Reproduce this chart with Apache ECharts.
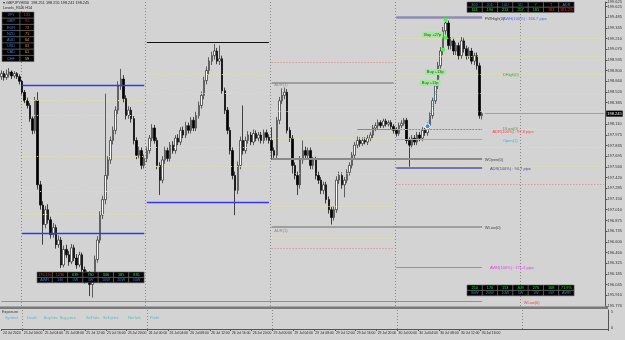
<!DOCTYPE html>
<html><head><meta charset="utf-8">
<script src="https://cdn.jsdelivr.net/npm/echarts/dist/echarts.min.js"></script>
<style>html,body{margin:0;padding:0;background:#d3d3d3;overflow:hidden}#c{width:625px;height:340px}</style>
</head><body><div id="c"></div>
<script>
// ---------- DATA ----------
// GBPJPY M30 candles: [open, close, low, high]
const candles = [
[198.72,198.76,198.68,198.80],[198.76,198.71,198.67,198.79],[198.71,198.75,198.68,198.81],[198.75,198.78,198.71,198.83],
[198.78,198.73,198.69,198.80],[198.73,198.76,198.70,198.79],[198.76,198.72,198.69,198.78],[198.72,198.66,198.62,198.75],
[198.66,198.52,198.49,198.68],[198.52,198.41,198.38,198.55],[198.41,198.35,198.31,198.45],[198.35,198.18,198.14,198.38],
[198.18,198.03,197.98,198.21],[198.03,198.41,197.99,198.46],[198.41,197.33,197.27,198.52],[197.33,197.07,197.01,197.38],
[197.07,196.82,196.56,197.12],[196.82,197.01,196.77,197.06],[197.01,196.88,196.83,197.08],[196.88,196.69,196.64,196.92],
[196.69,196.78,196.65,196.84],[196.78,196.56,196.51,196.82],[196.56,196.62,196.52,196.68],[196.62,196.30,196.26,196.66],
[196.30,196.50,196.27,196.55],[196.50,196.43,196.39,196.56],[196.43,196.34,196.29,196.48],[196.34,196.52,196.31,196.57],
[196.52,196.39,196.35,196.56],[196.39,196.30,196.25,196.44],[196.30,196.43,196.27,196.47],[196.43,196.24,196.19,196.46],
[196.24,196.11,196.06,196.28],[196.11,196.18,196.07,196.23],[196.18,196.05,195.90,196.22],[196.05,196.14,195.88,196.19],
[196.14,196.37,196.10,196.42],[196.37,196.62,196.33,196.67],[196.62,196.94,196.58,196.99],[196.94,197.14,196.89,197.19],
[197.14,197.45,197.08,198.50],[197.45,197.65,197.40,197.70],[197.65,197.90,197.60,197.95],[197.90,198.03,197.85,198.08],
[198.03,198.29,197.98,198.34],[198.29,198.60,198.24,198.66],[198.60,198.69,198.55,198.82],[198.69,198.44,198.39,198.74],
[198.44,198.22,198.17,198.48],[198.22,198.29,198.18,198.34],[198.29,198.18,198.13,198.33],[198.18,197.90,197.85,198.22],
[197.90,197.71,197.66,197.94],[197.71,197.77,197.67,197.82],[197.77,197.58,197.53,197.81],[197.58,197.67,197.54,197.72],
[197.67,197.77,197.62,197.82],[197.77,197.93,197.73,197.97],[197.93,198.06,197.89,198.11],[198.06,197.90,197.86,198.10],
[197.90,197.58,197.53,197.94],[197.58,197.39,197.20,197.62],[197.39,197.65,197.35,197.70],[197.65,197.77,197.60,197.82],
[197.77,197.67,197.63,197.81],[197.67,197.84,197.63,197.88],[197.84,197.77,197.73,197.89],[197.77,197.93,197.73,197.97],
[197.93,197.88,197.84,197.98],[197.88,198.03,197.84,198.07],[198.03,197.97,197.93,198.08],[197.97,198.09,197.93,198.14],
[198.09,198.03,197.99,198.13],[198.03,198.16,197.99,198.20],[198.16,198.06,198.02,198.20],[198.06,198.22,198.02,198.27],
[198.22,198.35,198.18,198.40],[198.35,198.48,198.31,198.53],[198.48,198.67,198.43,198.72],[198.67,198.80,198.62,198.85],
[198.80,198.92,198.75,198.97],[198.92,198.99,198.87,199.04],[198.99,199.05,198.94,199.14],[199.05,198.92,198.88,199.09],
[198.92,198.95,198.87,199.12],[198.95,198.54,198.50,198.99],[198.54,198.29,198.24,198.58],[198.29,198.03,197.98,198.33],
[198.03,197.77,197.72,198.07],[197.77,197.45,197.40,197.81],[197.45,197.26,196.94,197.50],[197.26,197.58,197.21,197.63],
[197.58,197.90,197.53,197.95],[197.90,197.77,197.72,198.35],[197.77,197.90,197.73,197.95],[197.90,197.97,197.86,198.02],
[197.97,197.88,197.84,198.01],[197.88,197.99,197.84,198.04],[197.99,197.93,197.89,198.03],[197.93,197.97,197.89,198.01],
[197.97,197.90,197.86,198.01],[197.90,198.00,197.86,198.04],[198.00,197.94,197.90,198.04],[197.94,197.90,197.86,197.98],
[197.90,197.77,197.65,198.07],[197.77,197.71,197.66,197.81],[197.71,198.16,197.67,198.20],[198.16,198.41,198.11,198.46],
[198.41,198.48,198.37,198.57],[198.48,198.52,198.43,198.58],[198.52,198.03,197.99,198.56],[198.03,197.93,197.88,198.07],
[197.93,197.58,197.47,197.97],[197.58,197.45,197.40,197.62],[197.45,197.33,197.20,197.50],[197.33,197.65,197.28,197.70],
[197.65,197.77,197.60,197.90],[197.77,197.71,197.66,197.82],[197.71,197.77,197.66,197.81],[197.77,197.58,197.53,197.81],
[197.58,197.65,197.53,197.69],[197.65,197.45,197.40,197.69],[197.45,197.39,197.34,197.50],[197.39,197.26,197.21,197.43],
[197.26,197.33,197.21,197.37],[197.33,197.14,197.09,197.37],[197.14,197.01,196.96,197.18],[197.01,196.91,196.82,197.05],
[196.91,197.01,196.87,197.05],[197.01,197.39,196.97,197.44],[197.39,197.45,197.34,197.50],[197.45,197.33,197.28,197.49],
[197.33,197.39,197.17,197.43],[197.39,197.49,197.35,197.53],[197.49,197.58,197.45,197.62],[197.58,197.71,197.54,197.75],
[197.71,197.84,197.67,197.88],[197.84,197.90,197.80,197.95],[197.90,197.86,197.82,197.94],[197.86,197.90,197.83,197.94],
[197.90,197.88,197.85,197.94],[197.88,197.93,197.84,197.97],[197.93,197.97,197.89,198.01],[197.97,198.06,197.93,198.10],
[198.06,198.09,198.02,198.13],[198.09,198.13,198.05,198.17],[198.13,198.09,198.06,198.16],[198.09,198.15,198.06,198.18],
[198.15,198.11,198.08,198.18],[198.11,198.13,198.08,198.16],[198.13,198.08,198.05,198.16],[198.08,198.03,197.99,198.11],
[198.03,197.99,197.95,198.07],[197.99,198.09,197.96,198.13],[198.09,198.12,198.06,198.16],[198.12,198.16,198.09,198.19],
[198.16,197.90,197.86,198.19],[197.90,197.84,197.56,197.94],[197.84,197.93,197.80,197.97],[197.93,197.88,197.84,197.97],
[197.88,197.97,197.84,198.01],[197.97,197.93,197.89,198.01],[197.93,198.03,197.89,198.07],[198.03,198.00,197.96,198.06],
[198.00,198.09,197.96,198.13],[198.09,198.22,198.05,198.26],[198.22,198.41,198.18,198.45],[198.41,198.60,198.37,198.65],
[198.60,198.86,198.56,198.91],[198.86,199.05,198.81,199.10],[199.05,199.31,199.00,199.36],[199.31,199.41,199.26,199.47],
[199.41,199.12,199.07,199.44],[199.12,199.18,199.07,199.23],[199.18,199.05,199.00,199.22],[199.05,199.12,199.00,199.16],
[199.12,198.99,198.94,199.16],[198.99,199.18,198.95,199.23],[199.18,199.08,199.03,199.22],[199.08,198.99,198.94,199.12],
[198.99,199.05,198.95,199.10],[199.05,198.92,198.88,199.09],[198.92,198.99,198.87,199.03],[198.99,198.86,198.81,199.03],
[198.86,198.22,198.18,198.90],[198.22,198.245,198.17,198.27]
];
const chartShiftSlots = 47;
const currentPrice = 198.245;
const dayStartIndex = [8, 56, 104, 152, 200];
const xTickLabels = ['24 Jul 2024','25 Jul 00:00','25 Jul 04:00','25 Jul 08:00','25 Jul 12:00','25 Jul 16:00','25 Jul 20:00',
 '26 Jul 00:00','26 Jul 04:00','26 Jul 08:00','26 Jul 12:00','26 Jul 16:00','26 Jul 20:00',
 '29 Jul 00:00','29 Jul 04:00','29 Jul 08:00','29 Jul 12:00','29 Jul 16:00','29 Jul 20:00',
 '30 Jul 00:00','30 Jul 04:00','30 Jul 08:00','30 Jul 12:00','30 Jul 16:00'];
const yMin = 195.7725, yMax = 199.68, yStep = 0.1375;
const yTickLabels = ['195.770','195.910','196.045','196.185','196.325','196.460','196.600','196.735','196.875','197.010',
 '197.150','197.285','197.420','197.560','197.695','197.835','197.975','198.110','198.245','198.385','198.520','198.660',
 '198.800','198.935','199.070','199.210','199.345','199.485','199.625'];

// level segments: [startIndex, endIndex, price, kind]
const levelSegments = [
 [8, 55, 198.606, 'blue'], [8, 55, 196.704, 'blue'],
 [56, 103, 199.168, 'black'], [56, 103, 197.100, 'blue'],
 [104, 151, 198.645, 'gray'], [104, 185, 196.794, 'gray'],
 [104, 185, 197.662, 'grayThick'],
 [152, 185, 199.487, 'purpleThick'],
 [137, 185, 198.045, 'pink'],
 [152, 185, 197.917, 'lightblue'],
 [152, 185, 197.547, 'navy'],
 [152, 185, 196.270, 'magenta'],
 [0, 185, 195.836, 'red']
];
const dottedRed = [[104, 151, 198.900], [104, 151, 196.513], [152, 232, 197.343]];
const yellowLevels = [
 [8, 55, 198.415], [8, 55, 198.223], [8, 55, 197.700], [8, 55, 197.250], [8, 55, 196.950],
 [56, 103, 198.747], [56, 103, 198.505], [56, 103, 197.815], [56, 103, 197.572],
 [104, 151, 198.274], [104, 151, 197.930], [104, 151, 197.480], [104, 151, 197.060], [104, 151, 196.640],
 [152, 232, 199.219], [152, 232, 198.977], [152, 232, 198.747], [152, 232, 198.505], [152, 232, 198.274],
 [152, 232, 198.045], [152, 232, 197.815], [152, 232, 197.572]
];
const levelLabels = [
 [186, 199.46, 'PWHigh(0)', 'dark'], [193, 199.46, 'AWH(100%) : 166.7 pips', 'blue'],
 [193, 198.747, 'DHigh(0)', 'green'],
 [193, 198.045, 'DLow(0)', 'green'], [189, 198.01, 'ADR(100%) : 97.8 pips', 'red'],
 [193, 197.90, 'Open(1)', 'cyan'],
 [186, 197.65, 'WOpen(0)', 'dark'],
 [188, 197.53, 'ADR(100%) : 94.7 pips', 'navy'],
 [186, 196.78, 'WLow(0)', 'dark'],
 [188, 196.26, 'AWR(100%) : 171.4 pips', 'magenta'],
 [201, 195.81, 'WLow(0)', 'red'],
 [105, 198.62, 'ADR(1)', 'gray'], [105, 196.74, 'ADR(1)', 'gray']
];
const tradePoints = [[164, 198.083], [169, 198.785]];
const hitPoints = [[171, 199.449], [171, 199.219], [170, 199.066]];
const tradeLabels = [[166, 199.26, 'Buy +27p'], [167, 198.78, 'Buy +13p'], [165, 198.64, 'Buy +11p']];

const strengthCur = ['JPY','GBP','EUR','NZD','AUD','USD','CAD','CHF'];
const strengthVal = ['131','91','73','71','64','63','61','59'];
const rangeTopHead = ['30D','20D','10D','5D','Y','T','ADR'];
const rangeTopVal = ['161','190','213','257','181','183','181.2%'];
const rangeLeftVal = ['176.1%','1236','639','780','346','185','835'];
const rangeLeftHead = ['AWR','1M','5W','3W','10W','20W','30W'];
const rangeRightVal = ['250','170','153','409','276','168','71.9%'];
const rangeRightHead = ['30W','20W','10W','5W','1W','LW','AWR'];
const exposureHead = ['Symbol','Deals','Buy lots','Buy price','Sell lots','Sell price','Net lots','Profit'];

// ---------- STYLES ----------
const kindStyle = {
 blue:{color:'#3535ff',width:1.3}, black:{color:'#111',width:1}, gray:{color:'#8c8c8c',width:1.5},
 grayThick:{color:'#8a8a8a',width:2}, purpleThick:{color:'#8c8cb4',width:2.5}, pink:{color:'#e0607a',width:1},
 lightblue:{color:'#56c8f0',width:1}, navy:{color:'#5050c8',width:1.5}, magenta:{color:'#e060e0',width:1},
 red:{color:'#e07070',width:1}
};
const labelColor = {dark:'#444', blue:'#4a6cff', green:'#3caa3c', red:'#ff4040', cyan:'#35b5e8', navy:'#4646c0', magenta:'#e040e0', gray:'#888'};
const F = 'Liberation Sans, Arial, sans-serif';

const N = candles.length + chartShiftSlots;
const categories = [];
for (let i = 0; i < N; i++) categories.push(String(i));

const markLines = [];
levelSegments.forEach(s => {
 const st = kindStyle[s[3]];
 markLines.push([{coord:[String(s[0]), s[2]], lineStyle:{color:st.color, width:st.width, type:'solid'}}, {coord:[String(s[1]), s[2]]}]);
});
dottedRed.forEach(s => markLines.push([{coord:[String(s[0]), s[2]], lineStyle:{color:'#e08080', width:1, type:[1,2]}}, {coord:[String(s[1]), s[2]]}]));
yellowLevels.forEach(s => markLines.push([{coord:[String(s[0]), s[2]], lineStyle:{color:'#e6e68a', width:1, type:[1,2]}}, {coord:[String(s[1]), s[2]]}]));
markLines.push([{coord:[String(tradePoints[0][0]), tradePoints[0][1]], lineStyle:{color:'#3c8cf0', width:1, type:[1,1.5]}}, {coord:[String(tradePoints[1][0]), tradePoints[1][1]]}]);
markLines.push([{coord:[String(candles.length), currentPrice], lineStyle:{color:'#a0a0a0', width:1, type:'solid'},
 label:{show:true, position:'end', distance:2, formatter:currentPrice.toFixed(3), color:'#fff', backgroundColor:'#000', fontSize:4, padding:[1,1], fontFamily:F}},
 {coord:[String(N - 1), currentPrice]}]);

const markPoints = [];
levelLabels.forEach(l => markPoints.push({coord:[String(l[0]), l[1]], symbol:'circle', symbolSize:0,
 label:{show:true, position:'right', distance:0, formatter:l[2], color:labelColor[l[3]], fontSize:4, fontFamily:F}}));
tradePoints.forEach(p => markPoints.push({coord:[String(p[0]), p[1]], symbol:'circle', symbolSize:5,
 itemStyle:{color:'#2f8ef0', borderColor:'#fff', borderWidth:1}, label:{show:false}}));
hitPoints.forEach(p => markPoints.push({coord:[String(p[0]), p[1]], symbol:'circle', symbolSize:4,
 itemStyle:{color:'#3cff3c'}, label:{show:false}}));
tradeLabels.forEach(p => markPoints.push({coord:[String(p[0]), p[1]], symbol:'circle', symbolSize:0,
 label:{show:true, position:'inside', formatter:p[2], color:'#0a5a0a', backgroundColor:'#a8e6a0', fontSize:4, padding:[1,2], fontFamily:F}}));

const splitDay = (i) => dayStartIndex.indexOf(i) >= 0;
const tickShow = (i) => i % 8 === 0 && i / 8 < xTickLabels.length;

// ---------- GRAPHIC (tables & texts) ----------
const g = [];
function cellTable(x, y, colW, rowH, rows) {
 rows.forEach((row, r) => row.forEach((cell, c) => {
  const cx = x + colW.slice(0, c).reduce((a, b) => a + b, 0);
  g.push({type:'rect', shape:{x:cx, y:y + r * rowH, width:colW[c], height:rowH}, style:{fill:'#000', stroke:'#6a6a6a', lineWidth:0.6}, z:50});
  g.push({type:'text', x:cx + colW[c] / 2, y:y + r * rowH + rowH / 2, style:{text:cell[0], fill:cell[1], font:'3.8px ' + F, textAlign:'center', textVerticalAlign:'middle'}, z:51});
 }));
}
const strengthColors = ['#ff2a2a','#e62020','#d2781e','#e6961e','#f0a028','#e69628','#e6a028','#e6c828'];
cellTable(2, 12, [18, 14], 6.2, strengthCur.map((c, i) => [[c, '#3f7fe0'], [strengthVal[i], strengthColors[i]]]));
const w7 = [15.3,15.3,15.3,15.3,15.3,15.3,15.3];
cellTable(467, 2, w7, 5.2, [rangeTopHead.map(t => [t, '#3f7fe0']), rangeTopVal.map((t, i) => [t, i >= 5 ? '#ff3030' : '#30e030'])]);
cellTable(37, 272, w7, 5.4, [rangeLeftVal.map((t, i) => [t, i < 2 ? '#ff3030' : '#30e030']), rangeLeftHead.map(t => [t, '#3f7fe0'])]);
cellTable(467, 285, w7, 5.4, [rangeRightVal.map(t => [t, '#30e030']), rangeRightHead.map(t => [t, '#3f7fe0'])]);
g.push({type:'text', x:3, y:1, style:{text:'\u25BE GBPJPY,M30  198.251 198.255 198.241 198.245', fill:'#222', font:'3.8px ' + F}, z:60});
g.push({type:'text', x:3, y:6, style:{text:'Levels_RUS H14', fill:'#222', font:'3.8px ' + F}, z:60});
g.push({type:'rect', shape:{x:0, y:306.5, width:608, height:2.5}, style:{fill:'#7a7a7a'}, z:40});
g.push({type:'text', x:2, y:310, style:{text:'Exposure', fill:'#333', font:'3.8px ' + F}, z:60});
const exposureX = [5, 27, 44, 60, 86, 103, 128, 150];
exposureHead.forEach((h, i) => g.push({type:'text', x:exposureX[i], y:315.5, style:{text:h, fill:'#57b8c4', font:'3.8px ' + F}, z:60}));
g.push({type:'text', x:611, y:310, style:{text:'5', fill:'#333', font:'3.8px ' + F}, z:60});
g.push({type:'text', x:611, y:326, style:{text:'0', fill:'#333', font:'3.8px ' + F}, z:60});

const chart = echarts.init(document.getElementById('c'), null, {renderer:'canvas'});
chart.setOption({
 backgroundColor:'#d3d3d3',
 animation:false,
 grid:[{left:0, top:0, width:608, height:306}, {left:0, top:310, width:608, height:19}],
 xAxis:[
  {type:'category', gridIndex:0, data:categories, boundaryGap:true, axisLine:{show:false}, axisTick:{show:false}, axisLabel:{show:false},
   splitLine:{show:true, interval:(i) => splitDay(i), lineStyle:{color:'#8a8a8a', type:[1,2], width:1}}},
  {type:'category', gridIndex:1, data:categories, boundaryGap:true,
   axisLine:{show:true, lineStyle:{color:'#555', width:1}},
   axisTick:{show:true, interval:(i) => tickShow(i), length:2, lineStyle:{color:'#555'}},
   axisLabel:{show:true, interval:(i) => tickShow(i), formatter:(v, i) => xTickLabels[i / 8], fontSize:3.4, color:'#222', align:'left', margin:3, fontFamily:F},
   splitLine:{show:true, interval:(i) => splitDay(i), lineStyle:{color:'#8a8a8a', type:[1,2], width:1}}}
 ],
 yAxis:[
  {type:'value', gridIndex:0, position:'right', min:yMin, max:yMax, interval:yStep, scale:true,
   axisLine:{show:true, lineStyle:{color:'#555', width:1}}, axisTick:{show:true, length:2, lineStyle:{color:'#555'}},
   axisLabel:{formatter:(v) => yTickLabels[Math.round((v - yMin) / yStep)] || '', fontSize:4, color:'#333', margin:2, fontFamily:F},
   splitLine:{show:false}},
  {type:'value', gridIndex:1, position:'right', min:0, max:1, axisLine:{show:true, lineStyle:{color:'#555'}}, axisTick:{show:false}, axisLabel:{show:false}, splitLine:{show:false}}
 ],
 series:[
  {type:'candlestick', xAxisIndex:0, yAxisIndex:0, data:candles, barWidth:2,
   itemStyle:{color:'#ffffff', color0:'#000000', borderColor:'#2a2a2a', borderColor0:'#000000', borderWidth:0.7},
   markLine:{silent:true, symbol:'none', animation:false, label:{show:false}, data:markLines},
   markPoint:{silent:true, animation:false, data:markPoints}
  }
 ],
 graphic:g
});
</script></body></html>
